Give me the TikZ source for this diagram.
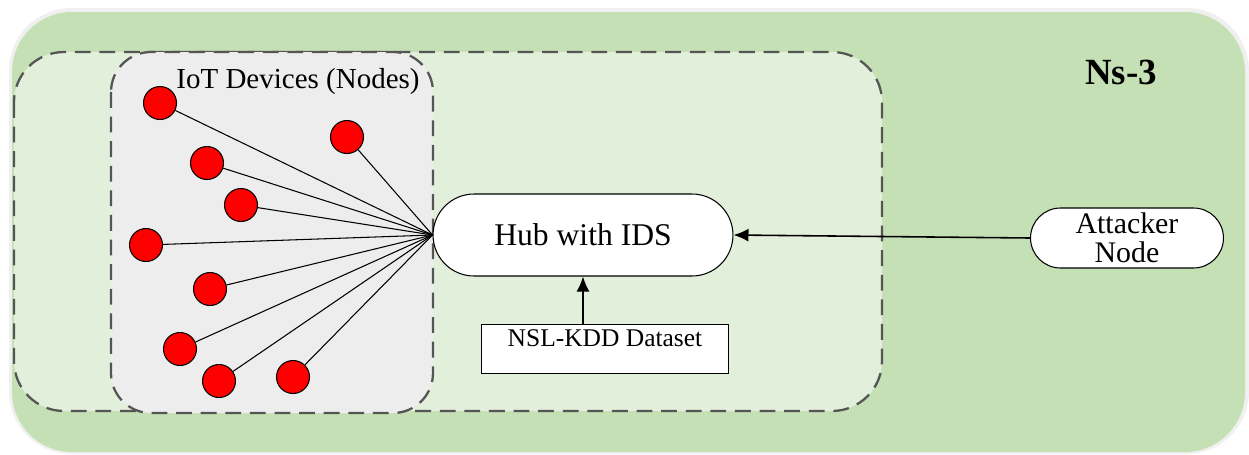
\documentclass[tikz,border=0pt]{standalone}
\usepackage{fontspec}
\setmainfont{Liberation Serif}
\usetikzlibrary{shapes.misc,backgrounds}
\usetikzlibrary{arrows.meta}

\definecolor{nsgreen}{HTML}{C5E0B4}
\definecolor{netgreen}{HTML}{E2EFDA}
\definecolor{iotgray}{HTML}{EDEDED}
\definecolor{dashgray}{HTML}{555555}

\tikzset{
  region/.style={draw=dashgray, line width=1.3pt, dash pattern=on 9pt off 5pt},
  device/.style={circle, draw=black, fill=red, line width=0.6pt, minimum size=0.66cm, inner sep=0pt},
  pill/.style={rounded rectangle, draw=black, fill=white, line width=0.6pt, inner sep=2pt},
  link/.style={line width=0.6pt},
  feed/.style={-{Latex[length=0.3cm, width=0.26cm]}, line width=0.9pt}
}

\begin{document}
\begin{tikzpicture}[x=0.02cm, y=-0.02cm]
\useasboundingbox (0,0) rectangle (1249,454);
% simulator area
\fill[gray!12] (9,8) [rounded corners=1.25cm] rectangle (1249,454);
\fill[nsgreen, rounded corners=1.2cm] (12,12) rectangle (1245,452);
\node[font=\fontsize{21}{21}\selectfont\bfseries] (ns) at (1121,72) {Ns-3};
% network and device areas
\draw[region, fill=netgreen, rounded corners=1cm] (14,52) rectangle (882,411);
\draw[region, fill=iotgray, rounded corners=0.8cm] (111,52) rectangle (433,413);
\node[font=\fontsize{16.5}{16.5}\selectfont] (iot) at (298,82) {IoT Devices (Nodes)};

\node[pill, minimum width=6.14cm, minimum height=1.64cm, font=\fontsize{18}{18}\selectfont] (hub) at (583,235) {Hub with IDS};
\node[pill, minimum width=4cm, minimum height=1.2cm, align=center, font=\fontsize{17}{16.5}\selectfont] (attacker) at (1127,238) {Attacker\\Node};
\node[draw=black, fill=white, line width=0.6pt, minimum width=4.94cm, minimum height=0.96cm, text depth=0.42cm, font=\fontsize{14.5}{14.5}\selectfont] (nsl) at (605,349) {NSL-KDD Dataset};

\foreach \name/\px/\py in {d1/160/103, d2/207/163, d3/241/205, d4/146/245, d5/210/289,
                          d6/180/349, d7/219/381, d8/293/377, d9/347/137}
  \node[device] (\name) at (\px,\py) {};

\foreach \name in {d1,d2,d3,d4,d5,d6,d7,d8,d9}
  \draw[link] (\name) -- (hub.west);

\draw[feed] (nsl.north -| hub.south) -- (hub.south);
\draw[feed] (attacker.west) -- (hub.east);
\end{tikzpicture}
\end{document}
